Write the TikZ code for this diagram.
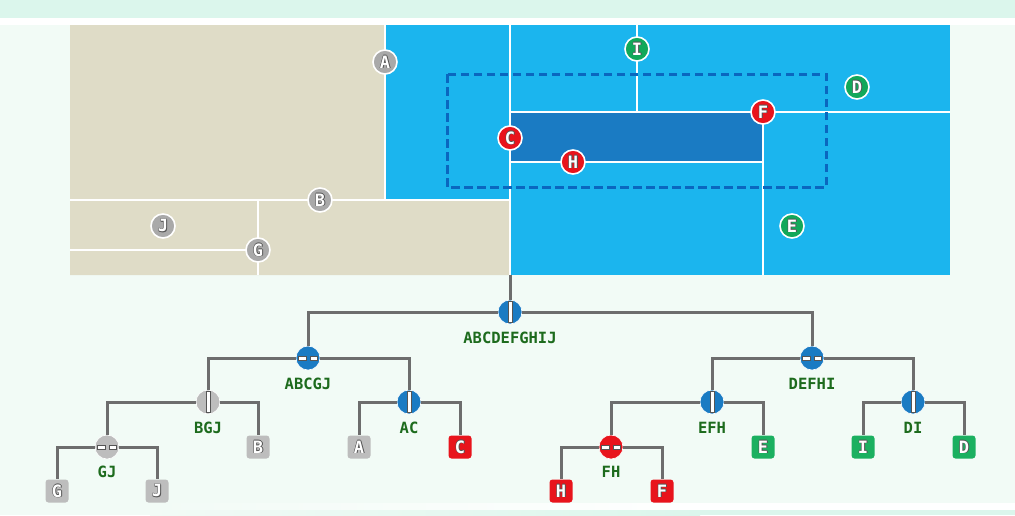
\documentclass[tikz,border=0pt]{standalone}
\usepackage{fontspec}
\newfontfamily\monof{DejaVu Sans Mono}
\definecolor{bgc}{HTML}{F2FBF6}
\definecolor{topc}{HTML}{DBF6EC}
\definecolor{beige}{HTML}{DFDCC7}
\definecolor{lblue}{HTML}{1BB5EE}
\definecolor{dblue}{HTML}{1A7BC3}
\definecolor{dashc}{HTML}{0A67BF}
\definecolor{grc}{HTML}{A9A9A9}
\definecolor{grl}{HTML}{BDBDBD}
\definecolor{redc}{HTML}{E8141C}
\definecolor{grnc}{HTML}{12A85A}
\definecolor{grnl}{HTML}{1BB060}
\definecolor{lnc}{HTML}{6D6D6D}
\definecolor{lbl}{HTML}{1D6B1D}
\definecolor{olc}{HTML}{555555}
\newcommand\olt[1]{{\setbox0\hbox{#1}\color{olc}%
\rlap{\kern-.55pt\copy0}\rlap{\kern.55pt\copy0}\rlap{\raise.55pt\copy0}\rlap{\lower.55pt\copy0}\rlap{\kern.9pt\lower.9pt\copy0}%
\color{white}\box0}}
\tikzset{
  mapdot/.style={circle, minimum size=24pt, inner sep=0pt, draw=white, line width=1.6pt, font=\monof\bfseries\fontsize{17}{17}\selectfont},
  gdot/.style={mapdot, fill=grc},
  rdot/.style={mapdot, fill=redc},
  ndot/.style={mapdot, fill=grnc},
  wline/.style={draw=white, line width=2.2pt},
  tnode/.style={circle, minimum size=24pt, inner sep=0pt, draw=white, line width=.6pt},
  vsplit/.style={path picture={\draw[olc, fill=white, line width=.6pt] ([shift={(-1.8pt,-10.5pt)}]path picture bounding box.center) rectangle ([shift={(1.8pt,10.5pt)}]path picture bounding box.center);}},
  hsplit/.style={path picture={\draw[olc, fill=white, line width=.6pt] ([shift={(-9.5pt,-1.8pt)}]path picture bounding box.center) rectangle ([shift={(-2pt,1.8pt)}]path picture bounding box.center) ([shift={(2pt,-1.8pt)}]path picture bounding box.center) rectangle ([shift={(9.5pt,1.8pt)}]path picture bounding box.center);}},
  leaf/.style={rectangle, rounded corners=3pt, minimum size=23pt, inner sep=0pt, font=\monof\bfseries\fontsize{17}{17}\selectfont},
  tlabel/.style={inner sep=0pt, text=lbl, font=\monof\bfseries\fontsize{15.5}{15.5}\selectfont},
  edge/.style={draw=lnc, line width=3pt}
}
\begin{document}
\begin{tikzpicture}[x=1pt, y=-1pt]
\useasboundingbox (0,0) rectangle (1015,515);
% page background
\fill[bgc] (0,0) rectangle (1015,515);
\fill[topc] (0,0) rectangle (1015,17.5);
\fill[white] (0,17.5) rectangle (1015,25);
\shade[left color=bgc, right color=white] (150,503) rectangle (700,510);
\fill[white] (700,503) rectangle (1015,510);
\shade[left color=bgc, right color=topc] (150,510) rectangle (700,515);
\fill[topc] (700,510) rectangle (1015,515);
% map regions
\fill[lblue] (70,25) rectangle (950,275);
\fill[beige] (70,25) -- (385,25) -- (385,200) -- (510,200) -- (510,275) -- (70,275) -- cycle;
\fill[dblue] (510,112) rectangle (763,162);
% split lines
\draw[wline] (385,25) -- (385,200);
\draw[wline] (70,200) -- (510,200);
\draw[wline] (258,200) -- (258,275);
\draw[wline] (70,250) -- (258,250);
\draw[wline] (510,25) -- (510,275);
\draw[wline] (510,112) -- (950,112);
\draw[wline] (637,25) -- (637,112);
\draw[wline] (510,162) -- (763,162);
\draw[wline] (763,112) -- (763,275);
% query window
\draw[dashc, line width=3pt, dash pattern=on 8.5pt off 4.5pt] (447,74) rectangle (826,187);
% points
\node[gdot] (pA) at (385,62) {\olt{A}};
\node[gdot] (pB) at (320,200) {\olt{B}};
\node[gdot] (pJ) at (163,226) {\olt{J}};
\node[gdot] (pG) at (258,250) {\olt{G}};
\node[rdot] (pC) at (510,138) {\olt{C}};
\node[rdot] (pH) at (573,162) {\olt{H}};
\node[rdot] (pF) at (763,112) {\olt{F}};
\node[ndot] (pI) at (637,49) {\olt{I}};
\node[ndot] (pD) at (857,87) {\olt{D}};
\node[ndot] (pE) at (792,226) {\olt{E}};
% tree nodes
\coordinate (mapb) at (510,275);
\node[tnode, fill=dblue, vsplit] (root) at (510,312) {};
\node[tnode, fill=dblue, hsplit] (abcgj) at (308,358) {};
\node[tnode, fill=grl, vsplit] (bgj) at (208,402) {};
\node[tnode, fill=grl, hsplit] (gj) at (107,447) {};
\node[tnode, fill=dblue, vsplit] (ac) at (409,402) {};
\node[tnode, fill=dblue, hsplit] (defhi) at (812,358) {};
\node[tnode, fill=dblue, vsplit] (efh) at (712,402) {};
\node[tnode, fill=redc, hsplit] (fh) at (611,447) {};
\node[tnode, fill=dblue, vsplit] (di) at (913,402) {};
% leaves
\node[leaf, fill=grl] (lG) at (57,491) {\olt{G}};
\node[leaf, fill=grl] (lJ) at (157,491) {\olt{J}};
\node[leaf, fill=grl] (lB) at (258,447) {\olt{B}};
\node[leaf, fill=grl] (lA) at (359,447) {\olt{A}};
\node[leaf, fill=redc] (lC) at (460,447) {\olt{C}};
\node[leaf, fill=redc] (lH) at (561,491) {\olt{H}};
\node[leaf, fill=redc] (lF) at (662,491) {\olt{F}};
\node[leaf, fill=grnl] (lE) at (763,447) {\olt{E}};
\node[leaf, fill=grnl] (lI) at (863,447) {\olt{I}};
\node[leaf, fill=grnl] (lD) at (964,447) {\olt{D}};
% labels
\node[tlabel] (troot) at (510,338) {ABCDEFGHIJ};
\node[tlabel] (tabcgj) at (308,384) {ABCGJ};
\node[tlabel] (tbgj) at (208,428) {BGJ};
\node[tlabel] (tgj) at (107,472) {GJ};
\node[tlabel] (tac) at (409,428) {AC};
\node[tlabel] (tdefhi) at (812,384) {DEFHI};
\node[tlabel] (tefh) at (712,428) {EFH};
\node[tlabel] (tfh) at (611,472) {FH};
\node[tlabel] (tdi) at (913,428) {DI};
% edges
\draw[edge] (mapb) -- (root);
\draw[edge] (root) -| (abcgj);
\draw[edge] (root) -| (defhi);
\draw[edge] (abcgj) -| (bgj);
\draw[edge] (abcgj) -| (ac);
\draw[edge] (bgj) -| (gj);
\draw[edge] (bgj) -| (lB);
\draw[edge] (gj) -| (lG);
\draw[edge] (gj) -| (lJ);
\draw[edge] (ac) -| (lA);
\draw[edge] (ac) -| (lC);
\draw[edge] (defhi) -| (efh);
\draw[edge] (defhi) -| (di);
\draw[edge] (efh) -| (fh);
\draw[edge] (efh) -| (lE);
\draw[edge] (fh) -| (lH);
\draw[edge] (fh) -| (lF);
\draw[edge] (di) -| (lI);
\draw[edge] (di) -| (lD);
\end{tikzpicture}
\end{document}
